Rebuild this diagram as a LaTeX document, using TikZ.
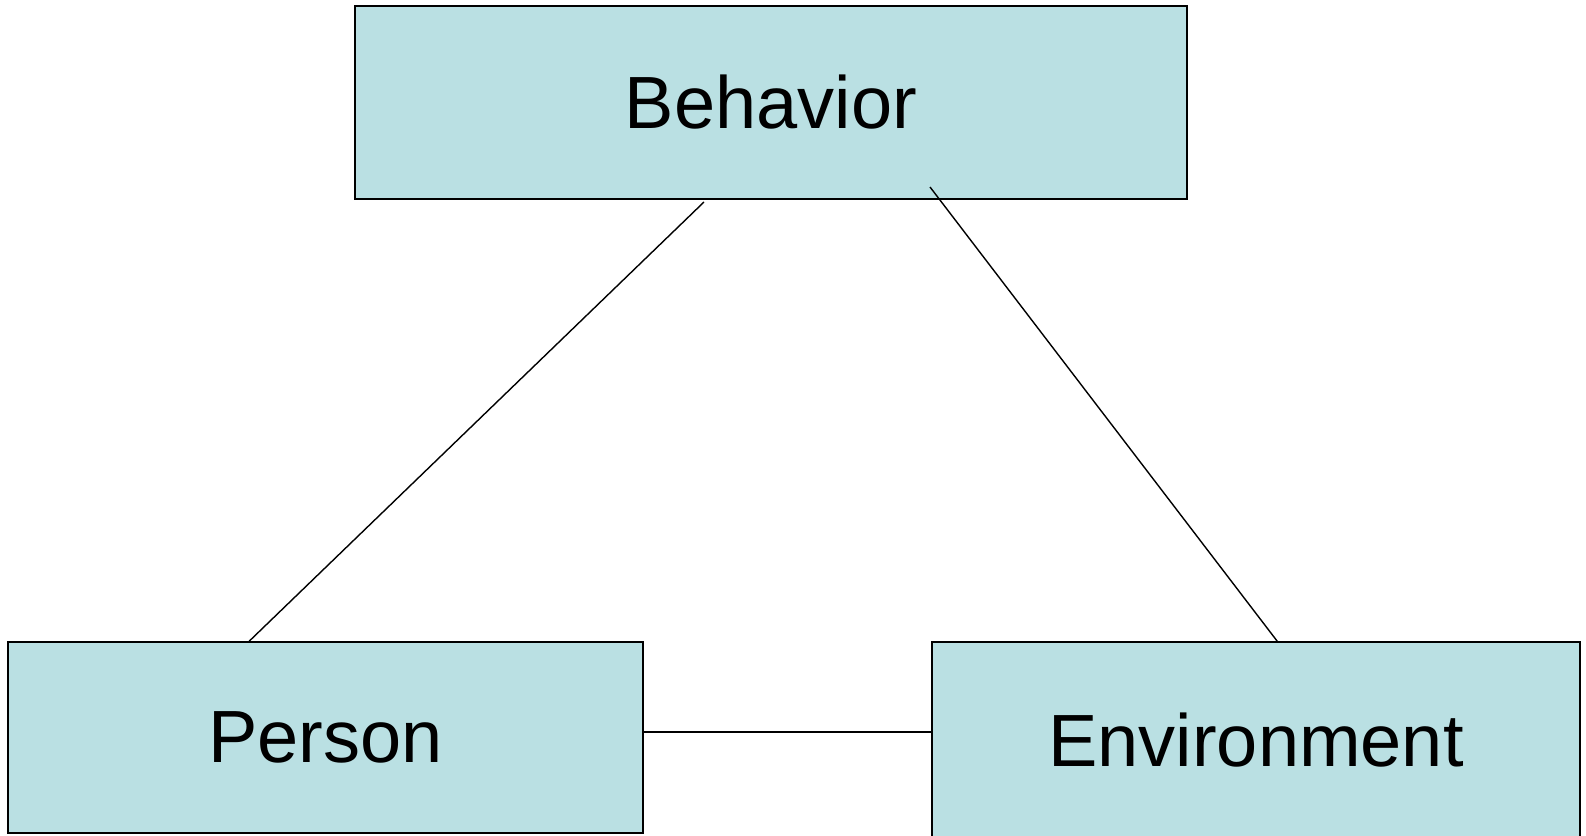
\documentclass[tikz,border=0pt]{standalone}
\usepackage{fontspec}
\setmainfont{Liberation Sans}
\definecolor{boxfill}{RGB}{186,224,227}
\begin{document}
\begin{tikzpicture}[x=1pt,y=-1pt,
  box/.style={draw=black, line width=1.6pt, fill=boxfill, inner sep=0pt,
    font=\fontsize{74}{88}\selectfont},
  link/.style={draw=black, line width=1.4pt}]
\useasboundingbox (0,0) rectangle (1586,835);
\clip (0,0) rectangle (1586,835);
\node[box, minimum width=832pt, minimum height=193pt] (beh) at (771,102.5) {Behavior};
\node[box, minimum width=635pt, minimum height=191pt] (per) at (325.5,737.5) {Person};
\node[box, minimum width=648pt, minimum height=196pt] (env) at (1256,740) {Environment};
\coordinate (bp) at (704,202);
\coordinate (be) at (930,187);
\draw[link] (bp) -- ([xshift=242pt]per.north west);
\draw[link] (be) -- ([xshift=346pt]env.north west);
\draw[link] (per.east |- 0,732) -- (env.west |- 0,732);
\end{tikzpicture}
\end{document}
